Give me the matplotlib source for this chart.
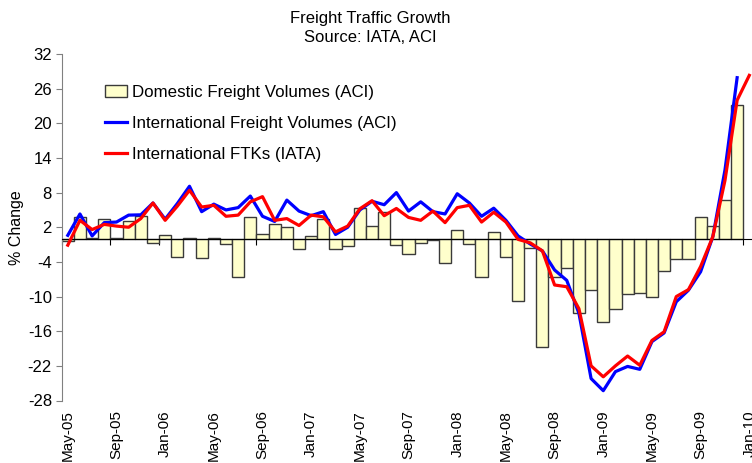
import matplotlib
matplotlib.use('Agg')
import matplotlib.pyplot as plt
import numpy as np

# 月次カテゴリ（May-05 〜 Jan-10）
months = ['May-05', 'Jun-05', 'Jul-05', 'Aug-05', 'Sep-05', 'Oct-05', 'Nov-05', 'Dec-05',
          'Jan-06', 'Feb-06', 'Mar-06', 'Apr-06', 'May-06', 'Jun-06', 'Jul-06', 'Aug-06',
          'Sep-06', 'Oct-06', 'Nov-06', 'Dec-06', 'Jan-07', 'Feb-07', 'Mar-07', 'Apr-07',
          'May-07', 'Jun-07', 'Jul-07', 'Aug-07', 'Sep-07', 'Oct-07', 'Nov-07', 'Dec-07',
          'Jan-08', 'Feb-08', 'Mar-08', 'Apr-08', 'May-08', 'Jun-08', 'Jul-08', 'Aug-08',
          'Sep-08', 'Oct-08', 'Nov-08', 'Dec-08', 'Jan-09', 'Feb-09', 'Mar-09', 'Apr-09',
          'May-09', 'Jun-09', 'Jul-09', 'Aug-09', 'Sep-09', 'Oct-09', 'Nov-09', 'Dec-09',
          'Jan-10']

domestic_aci = [-0.4, 3.8, 0.1, 3.35, 0.2, 3.0, 4.0, -0.8, 0.7, -3.2,
                0.2, -3.3, 0.1, -0.9, -6.7, 3.85, 0.9, 2.6, 2.0, -1.8,
                0.5, 3.35, -1.7, -1.3, 5.4, 2.25, 4.6, -1.0, -2.7, -0.65,
                -0.15, -4.15, 1.6, -0.9, -6.7, 1.25, -3.2, -10.7, -1.6, -18.7,
                -6.6, -5.0, -12.85, -8.9, -14.4, -12.2, -9.6, -9.3, -10.15, -5.55,
                -3.5, -3.5, 3.8, 2.3, 6.75, 23.2]

intl_aci = [0.6, 4.3, 0.5, 2.8, 2.9, 4.1, 4.15, 6.2, 3.4, 6.1,
            9.1, 4.7, 6.0, 5.0, 5.4, 7.4, 3.9, 3.0, 6.7, 4.8,
            4.0, 4.7, 0.75, 2.0, 5.0, 6.5, 5.9, 8.0, 4.8, 6.4,
            4.7, 4.3, 7.8, 6.2, 3.9, 5.3, 3.2, 0.5, -0.9, -2.1,
            -5.4, -7.2, -12.9, -24.2, -26.3, -23.0, -22.1, -22.6, -17.8, -16.3,
            -10.9, -8.9, -5.7, 0.35, 11.9, 27.9]

intl_ftk_iata = [-1.1, 3.2, 1.6, 2.5, 2.2, 2.0, 3.5, 6.2, 3.2, 5.65,
                 8.4, 5.5, 5.8, 3.9, 4.1, 6.4, 7.3, 3.2, 3.5, 2.3,
                 4.1, 3.8, 1.2, 2.2, 5.2, 6.6, 4.0, 5.25, 3.7, 3.2,
                 4.8, 2.8, 5.4, 5.8, 2.9, 4.6, 2.9, -0.1, -0.7, -2.1,
                 -8.0, -8.3, -12.1, -22.0, -23.9, -22.0, -20.3, -21.9, -17.6, -16.1,
                 -10.0, -8.8, -4.8, 0.35, 10.1, 24.0, 28.3]

y_ticks = [32, 26, 20, 14, 8, 2, -4, -10, -16, -22, -28]

plt.rcParams['font.family'] = ['Liberation Sans', 'DejaVu Sans']
plt.rcParams['axes.unicode_minus'] = False

fig = plt.figure(figsize=(7.52, 4.63), dpi=100)
W, H = 752, 463
# プロット領域（ピクセル位置から換算）
left_px, right_px = 61.7, 61.7 + 57 * 12.17
top_px, bot_px = 54.0, 400.5
ax = fig.add_axes([left_px / W, 1 - bot_px / H, (right_px - left_px) / W, (bot_px - top_px) / H])

bars = ax.bar(np.arange(len(domestic_aci)), domestic_aci, width=1.0, color='#FFFFCC',
              edgecolor='#3a3a3a', linewidth=1.0, label='Domestic Freight Volumes (ACI)', zorder=2)
line_aci, = ax.plot(np.arange(len(intl_aci)), intl_aci, color='#0000FF', linewidth=2.3,
                    label='International Freight Volumes (ACI)', zorder=3)
line_iata, = ax.plot(np.arange(len(intl_ftk_iata)), intl_ftk_iata, color='#FF0000', linewidth=2.3,
                     label='International FTKs (IATA)', zorder=4)

ax.set_xlim(-0.5, len(months) - 0.5)
ax.set_ylim(-28, 32)
ax.set_yticks(y_ticks)
ax.tick_params(axis='y', direction='out', length=4, color='#808080', labelsize=12, pad=3)

# カテゴリ軸はゼロ位置に
for side in ['top', 'right']:
    ax.spines[side].set_visible(False)
ax.spines['left'].set_color('#808080')
ax.spines['bottom'].set_position(('data', 0))
ax.spines['bottom'].set_color('black')
ax.set_xticks(np.arange(0, len(months) + 1, 4) - 0.5)
ax.set_xticklabels([])
ax.tick_params(axis='x', direction='out', length=4, color='black')

# 目盛ラベルは下端に縦書き
for i in range(0, len(months), 4):
    ax.text(i, -0.028, months[i], transform=ax.get_xaxis_transform(), rotation=90,
            ha='center', va='top', fontsize=11, clip_on=False)

ax.set_ylabel('% Change', fontsize=11.5, labelpad=3)

fig.text(370 / W, 1 - 18 / H, 'Freight Traffic Growth', ha='center', va='center', fontsize=12)
fig.text(370 / W, 1 - 38 / H, 'Source: IATA, ACI', ha='center', va='center', fontsize=12)

ax.legend([bars, line_aci, line_iata],
          ['Domestic Freight Volumes (ACI)', 'International Freight Volumes (ACI)',
           'International FTKs (IATA)'],
          loc='upper left', bbox_to_anchor=(105 / W, 1 - 85 / H), bbox_transform=fig.transFigure,
          frameon=False, fontsize=12.2, handlelength=1.3, handleheight=0.7,
          handletextpad=0.3, labelspacing=0.95, borderaxespad=0, borderpad=0)

fig.savefig('out.png', dpi=100)
